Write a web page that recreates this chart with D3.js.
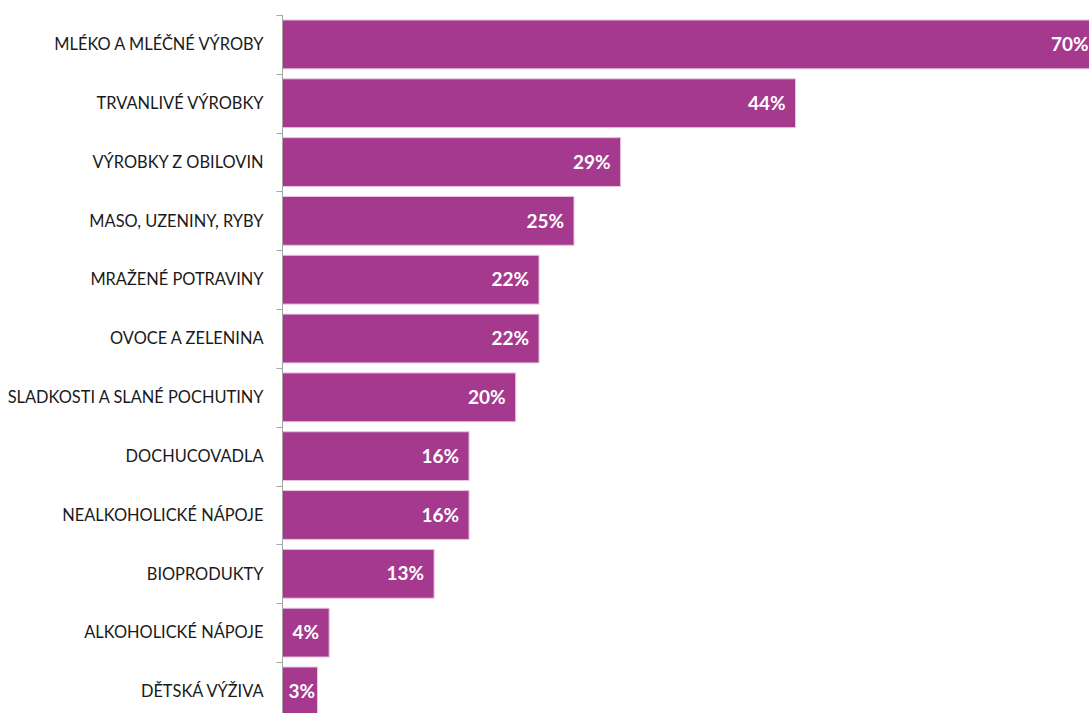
<!DOCTYPE html>
<html>
<head>
<meta charset="utf-8">
<script src="https://cdn.jsdelivr.net/npm/d3@7"></script>
<style>
  html, body { margin: 0; padding: 0; background: #fff; overflow: hidden; }
  svg { display: block; }
</style>
</head>
<body>
<svg id="chart" width="1089" height="713"></svg>
<script>
// Category labels (top to bottom) and their shares in percent
const categories = [
  "MLÉKO A MLÉČNÉ VÝROBY",
  "TRVANLIVÉ VÝROBKY",
  "VÝROBKY Z OBILOVIN",
  "MASO, UZENINY, RYBY",
  "MRAŽENÉ POTRAVINY",
  "OVOCE A ZELENINA",
  "SLADKOSTI A SLANÉ POCHUTINY",
  "DOCHUCOVADLA",
  "NEALKOHOLICKÉ NÁPOJE",
  "BIOPRODUKTY",
  "ALKOHOLICKÉ NÁPOJE",
  "DĚTSKÁ VÝŽIVA"
];
const values = [70, 44, 29, 25, 22, 22, 20, 16, 16, 13, 4, 3];

const svg = d3.select("#chart");
const axisX = 282.5;
const plotTop = 15;
const step = 58.82;

// Linear scale: 0% sits on the category axis; the longest bar runs past the right edge
const x = d3.scaleLinear().domain([0, 70]).range([axisX, axisX + 70 * 11.66]);
const y = d3.scaleBand()
  .domain(categories)
  .range([plotTop, plotTop + step * categories.length])
  .paddingInner(0.17)
  .paddingOuter(0.085);

// Bars
svg.append("g")
  .selectAll("rect")
  .data(categories)
  .join("rect")
  .attr("x", x(0))
  .attr("y", d => y(d))
  .attr("width", (d, i) => x(values[i]) - x(0))
  .attr("height", y.bandwidth())
  .attr("fill", "#A4398D")
  .attr("stroke", "#E7C6DF")
  .attr("stroke-width", 1);

// Category axis with outward tick marks between categories
const axisG = svg.append("g").attr("transform", `translate(${axisX},0)`);
axisG.append("line")
  .attr("x1", 0).attr("x2", 0)
  .attr("y1", plotTop).attr("y2", plotTop + step * categories.length)
  .attr("stroke", "#A6A6A6").attr("stroke-width", 1);
axisG.selectAll("line.tick")
  .data(d3.range(categories.length + 1))
  .join("line")
  .attr("class", "tick")
  .attr("x1", -6).attr("x2", 0)
  .attr("y1", i => Math.round(plotTop + i * step) + 0.5)
  .attr("y2", i => Math.round(plotTop + i * step) + 0.5)
  .attr("stroke", "#A6A6A6").attr("stroke-width", 1);

// Category labels
svg.append("g")
  .selectAll("text")
  .data(categories)
  .join("text")
  .attr("x", axisX - 19)
  .attr("y", d => y(d) + y.bandwidth() / 2)
  .attr("dy", "0.35em")
  .attr("text-anchor", "end")
  .attr("font-family", "Lato, 'Open Sans', sans-serif")
  .attr("font-size", 16.4)
  .attr("fill", "#1a1a1a")
  .text(d => d);

// Value labels inside the bar ends; short bars keep the label clear of the axis
svg.append("g")
  .selectAll("text")
  .data(categories)
  .join("text")
  .attr("y", d => y(d) + y.bandwidth() / 2)
  .attr("dy", "0.35em")
  .attr("text-anchor", "start")
  .attr("font-family", "Lato, 'Open Sans', sans-serif")
  .attr("font-weight", "bold")
  .attr("font-size", 19)
  .attr("fill", "#ffffff")
  .text((d, i) => values[i] + "%")
  .attr("x", function (d, i) {
    const w = this.getComputedTextLength();
    return Math.max(x(values[i]) - 10 - w, x(0) + 6);
  });
</script>
</body>
</html>
